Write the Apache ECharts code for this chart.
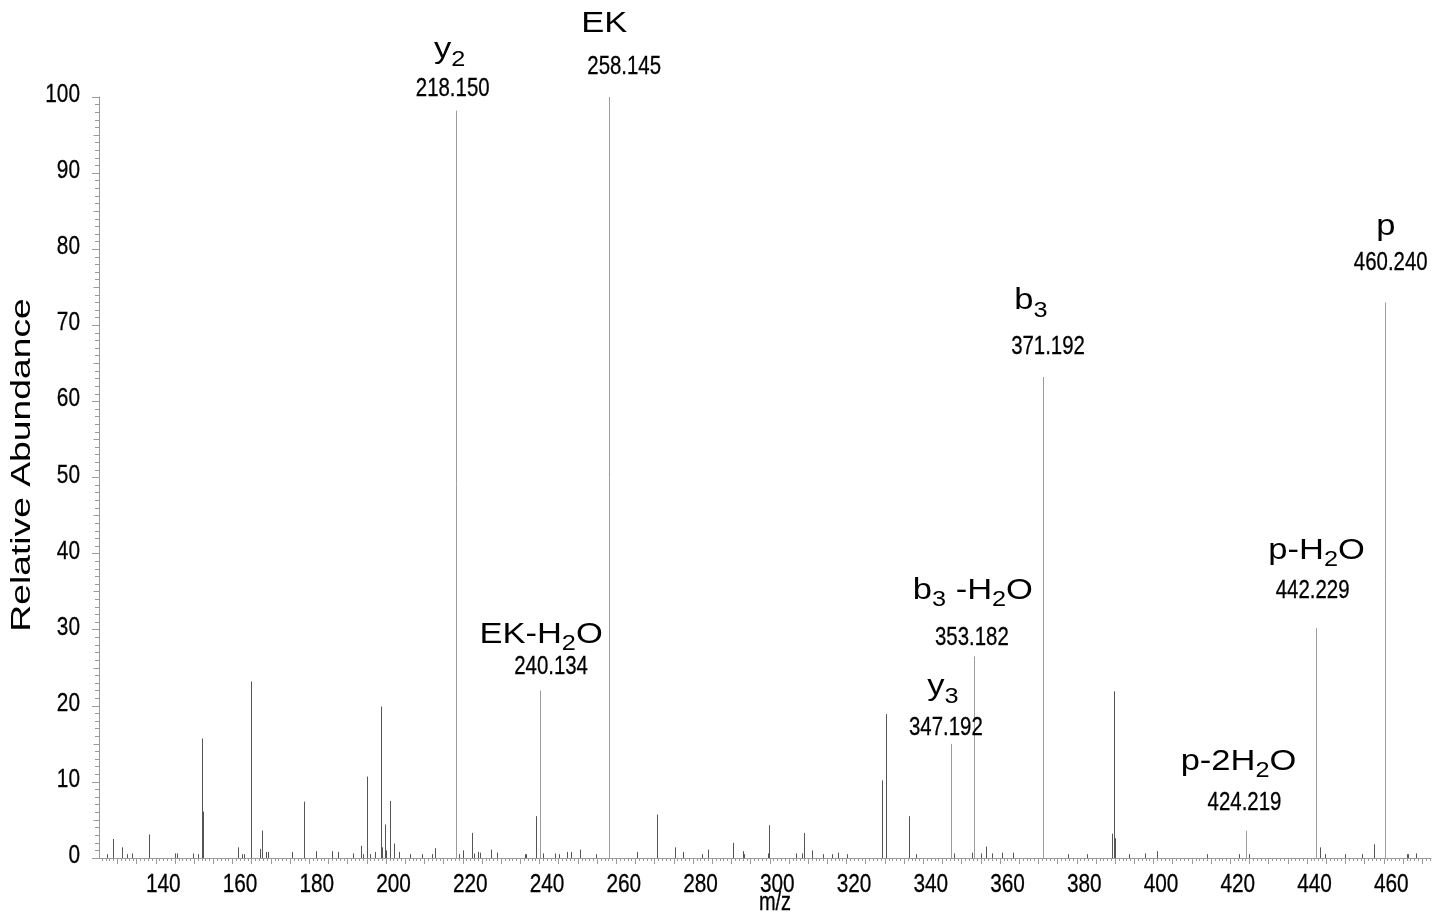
<!DOCTYPE html>
<html>
<head>
<meta charset="utf-8">
<script src="https://cdn.jsdelivr.net/npm/echarts@6/dist/echarts.min.js"></script>
<style>
html,body{margin:0;padding:0;background:#fff;}
#chart{width:1441px;height:915px;}
</style>
</head>
<body>
<div id="chart"></div>
<script>
// ---- data ----
const peakMz = [
  127.2,128.9,131.1,132.6,133.9,138.3,145.0,145.5,149.8,151.0,152.1,152.3,161.4,162.5,163.1,164.7,
  167.1,167.8,168.7,169.3,175.6,178.6,181.8,186.0,187.5,191.4,193.4,194.0,195.1,195.9,197.2,198.6,
  198.8,199.0,199.7,200.0,201.1,202.2,203.5,206.3,209.4,212.1,212.7,218.150,219.0,220.0,222.5,222.8,
  224.0,224.6,227.4,229.0,236.2,236.6,239.0,240.134,240.9,243.9,245.0,247.2,248.3,250.6,254.8,258.145,
  265.3,270.6,275.2,277.3,282.3,284.0,290.3,292.9,293.4,299.5,299.7,306.7,308.3,308.8,309.0,311.1,
  313.8,316.1,317.9,320.0,329.2,330.2,336.2,336.4,338.1,347.192,348.0,352.6,353.182,355.1,356.3,357.9,
  360.5,363.5,371.192,377.6,382.6,389.3,389.8,390.0,393.6,397.7,400.8,414.0,422.3,424.219,424.8,442.229,
  443.4,444.6,449.9,454.4,457.5,460.240,466.1,466.4,468.3
];
const peakIntensity = [
  0.5,2.5,1.4,0.5,0.6,3.1,0.6,0.6,0.6,0.5,15.7,6.1,1.4,0.5,0.5,23.2,
  1.2,3.6,0.8,0.8,0.8,7.4,0.9,0.9,0.8,0.6,1.6,0.5,10.7,0.5,0.8,4.1,
  19.9,1.4,4.4,1.0,7.5,1.9,0.8,0.5,0.5,0.5,1.3,98.2,0.5,1.0,3.3,0.6,
  0.8,0.7,1.1,0.7,0.5,0.5,5.5,22.0,0.6,0.6,0.5,0.8,0.8,1.1,0.5,100,
  0.8,5.7,1.4,0.8,0.5,1.1,2.0,0.9,0.5,0.6,4.3,0.6,0.6,3.3,1.0,1.0,
  0.5,0.5,0.7,0.5,10.2,18.9,5.5,0.8,0.5,15.0,0.6,0.7,26.5,0.6,1.5,0.6,
  0.7,0.7,63.2,0.5,0.5,3.2,21.9,2.6,0.5,0.6,0.9,0.5,0.5,3.6,0.5,30.2,
  1.4,0.5,0.5,0.5,1.8,73.0,0.5,0.5,0.6
];
const annMz = [218.150, 258.145, 240.134, 347.192, 353.182, 371.192, 424.219, 442.229, 460.240];
const annIntensity = [98.2, 100, 22.0, 15.0, 26.5, 63.2, 3.6, 30.2, 73.0];
const annIon = ['y{s|2}', 'EK', 'EK-H{s|2}O', 'y{s|3}', 'b{s|3} -H{s|2}O', 'b{s|3}', 'p-2H{s|2}O', 'p-H{s|2}O', 'p'];
const xTickLabels = [140,160,180,200,220,240,260,280,300,320,340,360,380,400,420,440,460];
const yTickLabels = [0,10,20,30,40,50,60,70,80,90,100];

// ---- layout / style (not data) ----
// offsets of text baseline-centre from the peak top, in px
const numOffsets = [[-3,-13.5],[15,-21.5],[11,-15.5],[-5,-7],[-2,-10],[5,-21.5],[-2,-19],[-3,-29],[6,-31]];
const ionOffsets = [[-6,-51],[-5,-63],[1,-46],[-8,-47],[-1,-56],[-12,-66],[-8,-59],[1,-68],[1,-66]];
const X_MIN = 125.2, X_MAX = 472.3;
const GRID = {left: 99, right: 10, top: 97, bottom: 57};
const AXIS_GRAY = '#9a9a9a';
const FAMILY = '"Liberation Sans", Arial, sans-serif';
const NARROW = 0.8;          // horizontal squeeze for the condensed numerals
const WIDE = 1.15;           // horizontal stretch of the ion names
const NUM_SIZE = 25.5, TICK_SIZE = 26, ION_SIZE = 30, SUB_SIZE = 22, SUB_SHIFT = 7;
const MID = 0.33;            // canvas "middle" sits ~0.33em above the baseline

const minorXTicks = [];
for (let v = Math.ceil(X_MIN); v <= X_MAX; v++) minorXTicks.push(v);
const midXTicks = minorXTicks.filter(v => v % 5 === 0);
const midYTicks = [5,15,25,35,45,55,65,75,85,95];

const annSet = new Set(annMz);
const peakData = peakMz.map((m, i) => [m, peakIntensity[i]]);
const annData = annMz.map((m, i) => [m, annIntensity[i]]);

const measureCtx = document.createElement('canvas').getContext('2d');
function textWidth(t, size) {
  measureCtx.font = size + 'px ' + FAMILY;
  return measureCtx.measureText(t).width;
}
function parseIon(s) {
  const parts = [];
  const re = /\{s\|([^}]*)\}/g;
  let last = 0, m;
  while ((m = re.exec(s)) !== null) {
    if (m.index > last) parts.push({t: s.slice(last, m.index), sub: false});
    parts.push({t: m[1], sub: true});
    last = re.lastIndex;
  }
  if (last < s.length) parts.push({t: s.slice(last), sub: false});
  return parts;
}
function txt(x, baseline, text, size, align, sx, weight) {
  const style = {text: text, fontSize: size, fontFamily: FAMILY, fill: '#000',
    align: align, verticalAlign: 'middle'};
  if (weight) { style.stroke = '#000'; style.lineWidth = weight; }
  return {type: 'text', x: x, y: baseline - MID * size, scaleX: sx || 1, style: style};
}

const chart = echarts.init(document.getElementById('chart'), null, {renderer: 'canvas'});
chart.setOption({
  animation: false,
  backgroundColor: '#ffffff',
  grid: [
    Object.assign({containLabel: false}, GRID),
    Object.assign({containLabel: false}, GRID)
  ],
  xAxis: [
    {
      type: 'value', gridIndex: 0, min: X_MIN, max: X_MAX, position: 'bottom',
      axisLine: {show: true, onZero: false, lineStyle: {color: AXIS_GRAY, width: 1}},
      axisTick: {show: true, inside: false, length: 6, customValues: midXTicks, lineStyle: {color: AXIS_GRAY}},
      axisLabel: {show: false},
      splitLine: {show: false}
    },
    {
      type: 'value', gridIndex: 1, min: X_MIN, max: X_MAX, position: 'bottom',
      axisLine: {show: false},
      axisTick: {show: true, inside: false, length: 3, customValues: minorXTicks, lineStyle: {color: AXIS_GRAY}},
      axisLabel: {show: false},
      splitLine: {show: false}
    }
  ],
  yAxis: [
    {
      type: 'value', gridIndex: 0, min: 0, max: 100, interval: 10,
      axisLine: {show: true, onZero: false, lineStyle: {color: AXIS_GRAY, width: 1}},
      axisTick: {show: true, inside: false, length: 7, lineStyle: {color: AXIS_GRAY}},
      minorTick: {show: true, splitNumber: 10, length: 4, lineStyle: {color: AXIS_GRAY}},
      axisLabel: {show: false},
      splitLine: {show: false}, minorSplitLine: {show: false}
    },
    {
      type: 'value', gridIndex: 1, min: 0, max: 100,
      axisLine: {show: false},
      axisTick: {show: true, inside: false, length: 5.5, customValues: midYTicks, lineStyle: {color: AXIS_GRAY}},
      axisLabel: {show: false},
      splitLine: {show: false}
    }
  ],
  graphic: [
    {
      type: 'text', x: 23, y: 465, rotation: Math.PI / 2, scaleX: 1.38,
      style: {text: 'Relative Abundance', fontSize: 27, fontFamily: FAMILY, fill: '#000',
        align: 'center', verticalAlign: 'middle'}
    },
    {
      type: 'text', x: 775, y: 903, scaleX: NARROW,
      style: {text: 'm/z', fontSize: 25, fontFamily: FAMILY, fill: '#000',
        stroke: '#000', lineWidth: 0.3, align: 'center', verticalAlign: 'middle'}
    }
  ],
  series: [
    {
      // spectrum peaks (sticks)
      type: 'custom', xAxisIndex: 0, yAxisIndex: 0, clip: true,
      data: peakData,
      renderItem: function (params, api) {
        const m = api.value(0), v = api.value(1);
        const p0 = api.coord([m, 0]);
        const p1 = api.coord([m, v]);
        const x = Math.round(p0[0]) + 0.5;
        return {
          type: 'line',
          shape: {x1: x, y1: p0[1], x2: x, y2: p1[1]},
          style: {stroke: annSet.has(m) ? '#9c9c9c' : '#555555', lineWidth: 1}
        };
      }
    },
    {
      // x tick labels
      type: 'custom', xAxisIndex: 0, yAxisIndex: 0, clip: false, silent: true,
      data: xTickLabels.map(v => [v, 0]),
      renderItem: function (params, api) {
        const p = api.coord([api.value(0), 0]);
        return txt(p[0] + 7.5, p[1] + 35.5, String(api.value(0)), TICK_SIZE, 'center', NARROW, 0.3);
      }
    },
    {
      // y tick labels
      type: 'custom', xAxisIndex: 0, yAxisIndex: 0, clip: false, silent: true,
      data: yTickLabels.map(v => [X_MIN, v]),
      renderItem: function (params, api) {
        const p = api.coord([X_MIN, api.value(1)]);
        return txt(p[0] - 19, p[1] + 6.5, String(api.value(1)), TICK_SIZE, 'right', NARROW, 0.3);
      }
    },
    {
      // peak annotations: m/z value + ion name
      type: 'custom', xAxisIndex: 0, yAxisIndex: 0, clip: false, silent: true, z: 5,
      data: annData,
      renderItem: function (params, api) {
        const i = params.dataIndex;
        const m = api.value(0);
        const top = api.coord([m, api.value(1)]);
        const children = [];
        const no = numOffsets[i];
        children.push(txt(top[0] + no[0], top[1] + no[1], m.toFixed(3), NUM_SIZE, 'center', NARROW, 0.3));
        const parts = parseIon(annIon[i]);
        let total = 0;
        parts.forEach(pt => { pt.w = textWidth(pt.t, pt.sub ? SUB_SIZE : ION_SIZE) * WIDE; total += pt.w; });
        const io = ionOffsets[i];
        let x = top[0] + io[0] - total / 2;
        const base = top[1] + io[1];
        parts.forEach(pt => {
          if (pt.sub) children.push(txt(x, base + SUB_SHIFT, pt.t, SUB_SIZE, 'left', WIDE));
          else children.push(txt(x, base, pt.t, ION_SIZE, 'left', WIDE));
          x += pt.w;
        });
        return {type: 'group', children: children};
      }
    }
  ]
});
</script>
</body>
</html>
